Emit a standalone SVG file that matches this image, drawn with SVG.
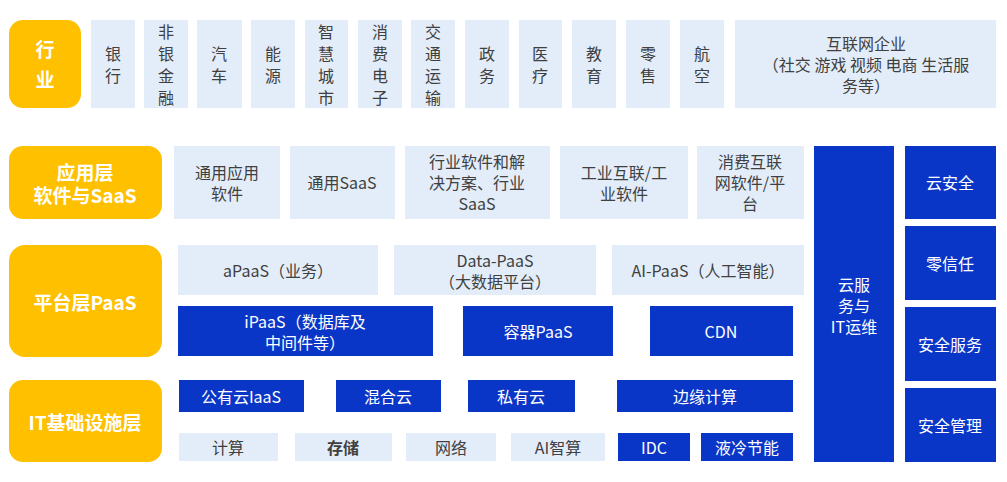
<svg xmlns="http://www.w3.org/2000/svg" width="1007" height="482" viewBox="0 0 1007 482">
<style>
text{font-family:"Noto Sans CJK SC","Noto Sans",sans-serif;text-anchor:middle;dominant-baseline:central}
.o{fill:#FFC000}.ot{fill:#fff;font-size:19px;font-weight:bold}
.l{fill:#E3EDF9}.lt{fill:#404040;font-size:16px}
.d{fill:#0A36C8}.dt{fill:#fff;font-size:16px}
</style>
<rect width="1007" height="482" fill="#fff"/>
<g id="hy"><rect class="o" x="9" y="20" width="72" height="88" rx="14"/><text class="ot" x="45" y="48" font-size="24">行</text><text class="ot" x="45" y="78" font-size="24">业</text></g>
<g id="ind" class="lt">
<g id="i1"><rect class="l" x="91" y="20" width="44" height="88"/><text class="lt" x="113" y="53">银</text><text class="lt" x="113" y="75">行</text></g>
<g id="i2"><rect class="l" x="144" y="20" width="44" height="88"/><text class="lt" x="166" y="31">非</text><text class="lt" x="166" y="53">银</text><text class="lt" x="166" y="75">金</text><text class="lt" x="166" y="97">融</text></g>
<g id="i3"><rect class="l" x="197" y="20" width="45" height="88"/><text class="lt" x="219" y="53">汽</text><text class="lt" x="219" y="75">车</text></g>
<g id="i4"><rect class="l" x="251" y="20" width="44" height="88"/><text class="lt" x="273" y="53">能</text><text class="lt" x="273" y="75">源</text></g>
<g id="i5"><rect class="l" x="305" y="20" width="43" height="88"/><text class="lt" x="326" y="31">智</text><text class="lt" x="326" y="53">慧</text><text class="lt" x="326" y="75">城</text><text class="lt" x="326" y="97">市</text></g>
<g id="i6"><rect class="l" x="358" y="20" width="44" height="88"/><text class="lt" x="380" y="31">消</text><text class="lt" x="380" y="53">费</text><text class="lt" x="380" y="75">电</text><text class="lt" x="380" y="97">子</text></g>
<g id="i7"><rect class="l" x="411" y="20" width="44" height="88"/><text class="lt" x="433" y="31">交</text><text class="lt" x="433" y="53">通</text><text class="lt" x="433" y="75">运</text><text class="lt" x="433" y="97">输</text></g>
<g id="i8"><rect class="l" x="465" y="20" width="44" height="88"/><text class="lt" x="487" y="53">政</text><text class="lt" x="487" y="75">务</text></g>
<g id="i9"><rect class="l" x="519" y="20" width="43" height="88"/><text class="lt" x="540" y="53">医</text><text class="lt" x="540" y="75">疗</text></g>
<g id="i10"><rect class="l" x="572" y="20" width="44" height="88"/><text class="lt" x="594" y="53">教</text><text class="lt" x="594" y="75">育</text></g>
<g id="i11"><rect class="l" x="626" y="20" width="44" height="88"/><text class="lt" x="648" y="53">零</text><text class="lt" x="648" y="75">售</text></g>
<g id="i12"><rect class="l" x="680" y="20" width="44" height="88"/><text class="lt" x="702" y="53">航</text><text class="lt" x="702" y="75">空</text></g>
<g id="i13"><rect class="l" x="735" y="20" width="261" height="88"/><text class="lt" x="866" y="43">互联网企业</text><text class="lt" x="866" y="64">（社交 游戏 视频 电商 生活服</text><text class="lt" x="866" y="85">务等）</text></g>
</g>
<g id="app"><rect class="o" x="9" y="146" width="153" height="73" rx="14"/><text class="ot" x="85" y="171">应用层</text><text class="ot" x="85" y="194">软件与SaaS</text></g>
<g id="a1"><rect class="l" x="174" y="146" width="106" height="73"/><text class="lt" x="227" y="172">通用应用</text><text class="lt" x="227" y="193">软件</text></g>
<g id="a2"><rect class="l" x="290" y="146" width="105" height="73"/><text class="lt" x="342" y="182">通用SaaS</text></g>
<g id="a3"><rect class="l" x="405" y="146" width="145" height="73"/><text class="lt" x="477" y="161">行业软件和解</text><text class="lt" x="477" y="182">决方案、行业</text><text class="lt" x="477" y="203">SaaS</text></g>
<g id="a4"><rect class="l" x="560" y="146" width="128" height="73"/><text class="lt" x="624" y="172">工业互联/工</text><text class="lt" x="624" y="193">业软件</text></g>
<g id="a5"><rect class="l" x="697" y="146" width="107" height="73"/><text class="lt" x="750" y="161">消费互联</text><text class="lt" x="750" y="182">网软件/平</text><text class="lt" x="750" y="203">台</text></g>
<g id="yun"><rect class="d" x="814" y="146" width="80" height="316"/><text class="dt" x="854" y="284">云服</text><text class="dt" x="854" y="305">务与</text><text class="dt" x="854" y="326">IT运维</text></g>
<g id="s1"><rect class="d" x="905" y="146" width="91" height="73"/><text class="dt" x="950" y="182">云安全</text></g>
<g id="s2"><rect class="d" x="905" y="226" width="91" height="74"/><text class="dt" x="950" y="263">零信任</text></g>
<g id="s3"><rect class="d" x="905" y="307" width="91" height="74"/><text class="dt" x="950" y="344">安全服务</text></g>
<g id="s4"><rect class="d" x="905" y="388" width="91" height="74"/><text class="dt" x="950" y="425">安全管理</text></g>
<g id="paas"><rect class="o" x="9" y="245" width="153" height="112" rx="16"/><text class="ot" x="85" y="301">平台层PaaS</text></g>
<g id="p1"><rect class="l" x="178" y="245" width="200" height="50"/><text class="lt" x="278" y="270">aPaaS（业务）</text></g>
<g id="p2"><rect class="l" x="394" y="245" width="202" height="50"/><text class="lt" x="495" y="260">Data-PaaS</text><text class="lt" x="495" y="281">（大数据平台）</text></g>
<g id="p3"><rect class="l" x="612" y="245" width="192" height="50"/><text class="lt" x="708" y="270">AI-PaaS（人工智能）</text></g>
<g id="p4"><rect class="d" x="178" y="306" width="255" height="50"/><text class="dt" x="305" y="321">iPaaS（数据库及</text><text class="dt" x="305" y="342">中间件等）</text></g>
<g id="p5"><rect class="d" x="463" y="306" width="150" height="50"/><text class="dt" x="538" y="331">容器PaaS</text></g>
<g id="p6"><rect class="d" x="650" y="306" width="143" height="50"/><text class="dt" x="721" y="331">CDN</text></g>
<g id="iaas"><rect class="o" x="9" y="380" width="153" height="82" rx="14"/><text class="ot" x="85" y="421">IT基础设施层</text></g>
<g id="c1"><rect class="d" x="179" y="380" width="125" height="32"/><text class="dt" x="241" y="396">公有云IaaS</text></g>
<g id="c2"><rect class="d" x="336" y="380" width="105" height="32"/><text class="dt" x="388" y="396">混合云</text></g>
<g id="c3"><rect class="d" x="468" y="380" width="107" height="32"/><text class="dt" x="521" y="396">私有云</text></g>
<g id="c4"><rect class="d" x="617" y="380" width="176" height="32"/><text class="dt" x="705" y="396">边缘计算</text></g>
<g id="b1"><rect class="l" x="179" y="433" width="99" height="28"/><text class="lt" x="228" y="447">计算</text></g>
<g id="b2"><rect class="l" x="295" y="433" width="97" height="28"/><text class="lt" x="343" y="447" font-weight="bold">存储</text></g>
<g id="b3"><rect class="l" x="406" y="433" width="90" height="28"/><text class="lt" x="451" y="447">网络</text></g>
<g id="b4"><rect class="l" x="511" y="433" width="94" height="28"/><text class="lt" x="558" y="447">AI智算</text></g>
<g id="b5"><rect class="d" x="618" y="433" width="72" height="28"/><text class="dt" x="654" y="447">IDC</text></g>
<g id="b6"><rect class="d" x="701" y="433" width="92" height="28"/><text class="dt" x="747" y="447">液冷节能</text></g>
<g id="connectors"/>
</svg>
